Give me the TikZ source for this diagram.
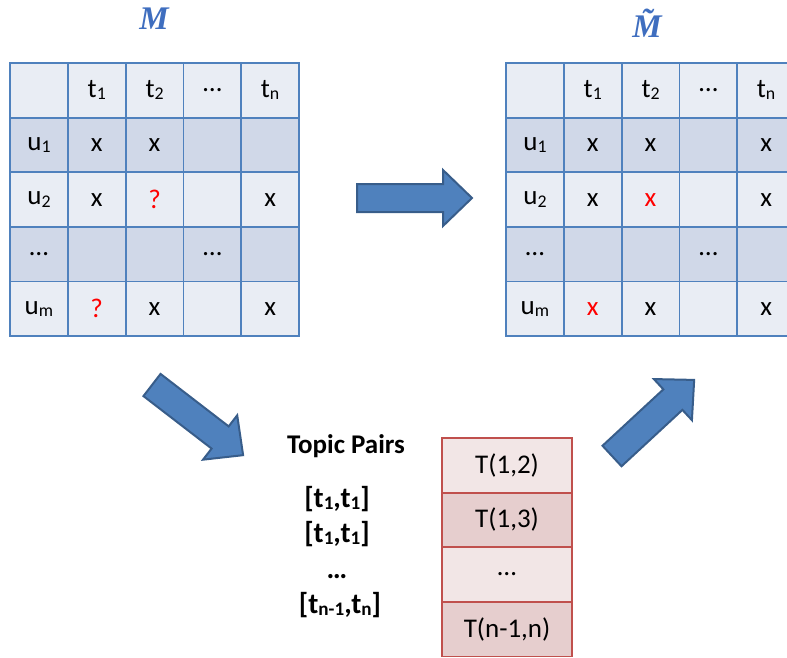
\documentclass[tikz,border=0pt]{standalone}
\usepackage{fontspec}
\setmainfont{Carlito}
\newfontfamily\titlefont{Liberation Serif}
\usetikzlibrary{matrix,positioning}

\definecolor{cellA}{HTML}{E9EDF4}
\definecolor{cellB}{HTML}{D0D8E8}
\definecolor{gridblue}{HTML}{4F81BD}
\definecolor{pairA}{HTML}{F2E6E6}
\definecolor{pairB}{HTML}{E6CECE}
\definecolor{gridred}{HTML}{C0504D}
\definecolor{arrowfill}{HTML}{4F81BD}
\definecolor{arrowedge}{HTML}{385D8A}
\definecolor{titleblue}{HTML}{3F6EBF}
\definecolor{qred}{HTML}{FF0000}

\newcommand\cellfont{\fontsize{27}{32}\selectfont}
\newcommand\lo[1]{\raisebox{-0.08em}{\scalebox{0.66}{#1}}}
\newcommand\miss{\textcolor{qred}{?}}
\newcommand\found{\textcolor{qred}{x}}

% block arrow: tail centre, angle, length
\newcommand\blockarrow[4]{%
  \begin{scope}[shift={(#1,#2)},rotate=#3]
    \draw[bigarrow] (0,-14) -- ({#4-29},-14) -- ({#4-29},-28) -- (#4,0)
      -- ({#4-29},28) -- ({#4-29},14) -- (0,14) -- cycle;
  \end{scope}}

\begin{document}
\begin{tikzpicture}[x=1pt,y=-1pt,
    cell/.style={minimum width=57.8pt,minimum height=54.6pt,inner sep=0pt,
      anchor=center,fill=cellA,draw=gridblue,line width=1.7pt,font=\cellfont},
    pair/.style={minimum width=130pt,minimum height=54.6pt,inner sep=0pt,
      anchor=center,fill=pairA,draw=gridred,line width=1.7pt,font=\cellfont},
    grid/.style={matrix of nodes,nodes in empty cells,inner sep=0pt,
      column sep=-1.7pt,row sep=-1.7pt,anchor=north west},
    bigarrow/.style={fill=arrowfill,draw=arrowedge,line width=2pt,line join=miter},
    title/.style={titleblue,anchor=base,inner sep=0pt,
      font=\titlefont\fontsize{33}{36}\selectfont\bfseries\itshape},
    pairtext/.style={font=\fontsize{27}{30}\selectfont\bfseries,anchor=base},
    pairlist/.style={font=\fontsize{29}{32}\selectfont\bfseries,anchor=base}]

  \useasboundingbox (0,0) rectangle (787,657);

  % observed matrix
  \node[title] (mtitle) at (154,29) {M};
  \matrix[grid,nodes={cell},row 2/.style={nodes={fill=cellB}},
    row 4/.style={nodes={fill=cellB}}] (obs) at (9,62) {
       & t\lo1 & t\lo2 & … & t\lo n \\
    u\lo1 & x & x & & \\
    u\lo2 & x & \miss & & x \\
    … & & & … & \\
    u\lo m & \miss & x & & x \\
  };

  % completed matrix
  \node[title] (ctitle) at (647,37) {\~{M}};
  \matrix[grid,nodes={cell},row 2/.style={nodes={fill=cellB}},
    row 4/.style={nodes={fill=cellB}}] (done) at (505,62) {
       & t\lo1 & t\lo2 & … & t\lo n \\
    u\lo1 & x & x & & x \\
    u\lo2 & x & \found & & x \\
    … & & & … & \\
    u\lo m & \found & x & & x \\
  };

  % topic pairs
  \node[pairtext] (ptitle) at (346,453) {Topic Pairs};
  \node[pairlist] (pair1) at (337,507) {[t\lo1,t\lo1]};
  \node[pairlist] (pair2) at (337,542) {[t\lo1,t\lo1]};
  \node[pairlist] (pair3) at (337,578) {…};
  \node[pairlist] (pair4) at (340,613) {[t\lo{n-1},t\lo n]};

  \matrix[grid,nodes={pair},row 2/.style={nodes={fill=pairB}},
    row 4/.style={nodes={fill=pairB}}] (tp) at (441,437) {
    T(1,2) \\
    T(1,3) \\
    … \\
    T(n-1,n) \\
  };

  % arrows
  \blockarrow{357}{198}{0}{115}
  \blockarrow{152}{385}{-37.6}{115}
  \blockarrow{612}{456}{42.8}{112}
\end{tikzpicture}
\end{document}
